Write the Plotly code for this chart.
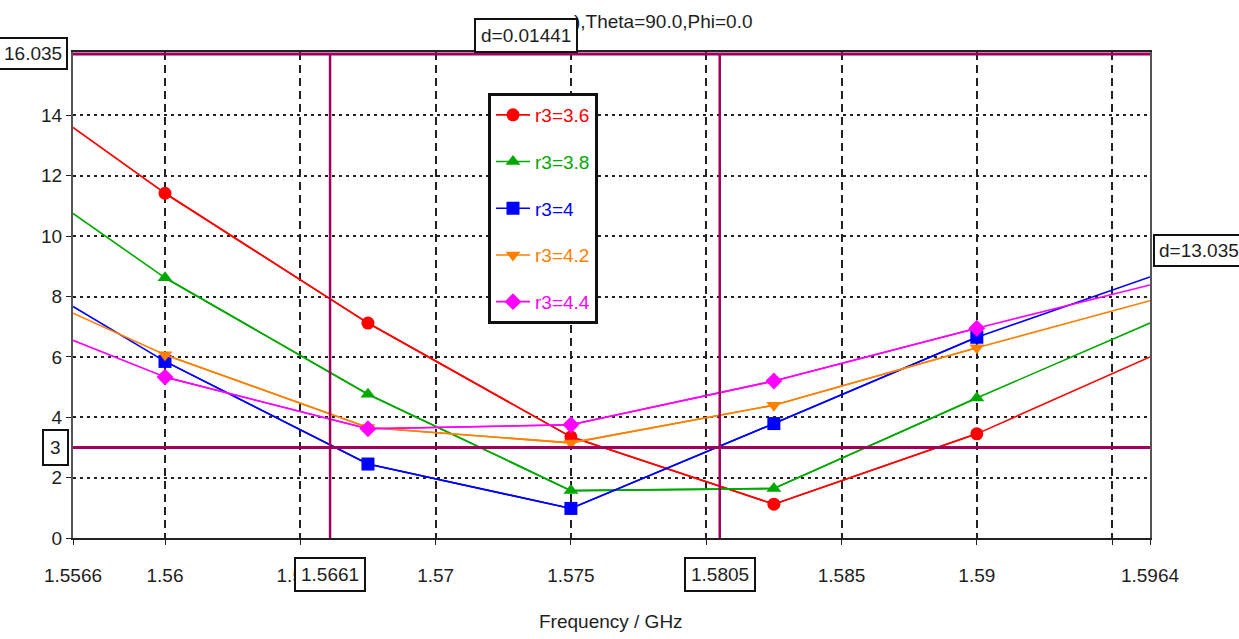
import plotly.graph_objects as go

# ---- data ----
freq = [1.5566, 1.56, 1.5675, 1.575, 1.5825, 1.59, 1.5964]
r3_36 = [13.6, 11.42, 7.12, 3.35, 1.12, 3.45, 6.0]
r3_38 = [10.75, 8.62, 4.76, 1.57, 1.64, 4.64, 7.12]
r3_40 = [7.67, 5.85, 2.45, 0.98, 3.79, 6.65, 8.65]
r3_42 = [7.45, 6.07, 3.66, 3.15, 4.4, 6.3, 7.86]
r3_44 = [6.55, 5.33, 3.62, 3.75, 5.2, 6.95, 8.38]

series_names = ["r3=3.6", "r3=3.8", "r3=4", "r3=4.2", "r3=4.4"]
series_values = [r3_36, r3_38, r3_40, r3_42, r3_44]
series_colors = ["#FF0000", "#00A800", "#0000FF", "#FF8000", "#FF00FF"]
series_symbols = ["circle", "triangle-up", "square", "triangle-down", "diamond"]

x_tickvals = [1.5566, 1.56, 1.565, 1.57, 1.575, 1.58, 1.585, 1.59, 1.595, 1.5964]
x_ticktext = ["1.5566", "1.56", "1.565", "1.57", "1.575", "1.58", "1.585", "1.59", "", "1.5964"]
y_tickvals = [0, 2, 4, 6, 8, 10, 12, 14]

marker_x = [1.5661, 1.5805]
marker_y = [16.035, 3]
delta_x_label = "d=0.01441"
delta_y_label = "d=13.035"
title_tail = "),Theta=90.0,Phi=0.0"
x_title = "Frequency / GHz"

FONT = "Liberation Sans, Arial, sans-serif"
FS = 19
TXT = "#1e1e1e"
MK = "#A0005C"

fig = go.Figure()
for name, vals, col, sym in zip(series_names, series_values, series_colors, series_symbols):
    # full line (continues to the axis edges)
    fig.add_trace(go.Scatter(
        x=freq, y=vals, mode="lines", legendgroup=name, showlegend=False,
        line=dict(color=col, width=1.6), hoverinfo="skip",
    ))
    # markers at the sampled frequencies
    fig.add_trace(go.Scatter(
        x=freq[1:-1], y=vals[1:-1], mode="lines+markers", legendgroup=name,
        name=f"<span style='color:{col}'>{name}</span>",
        line=dict(color=col, width=1.6),
        marker=dict(symbol=sym, size=13, color=col, line=dict(width=0)),
    ))

L, R, T, B = 73, 1150, 52, 538
W, H = 1239, 639
pw, ph = R - L, B - T

def px(xp):
    return (xp - L) / pw

def py(yp):
    return (B - yp) / ph

shapes = []
for yv in marker_y:
    shapes.append(dict(type="line", xref="paper", yref="y", x0=0, x1=1, y0=yv, y1=yv,
                       line=dict(color=MK, width=3)))
for xv in marker_x:
    shapes.append(dict(type="line", xref="x", yref="y", x0=xv, x1=xv, y0=0, y1=marker_y[0],
                       line=dict(color=MK, width=2.5)))

box = dict(bgcolor="white", bordercolor="#111", borderwidth=2, borderpad=6,
           font=dict(family=FONT, size=FS, color=TXT), showarrow=False)
box_tight = dict(box, borderpad=5)
annotations = [
    dict(text=title_tail, xref="paper", yref="paper", x=px(572), y=py(22), xanchor="left",
         yanchor="middle", showarrow=False, font=dict(family=FONT, size=FS, color=TXT)),
    dict(text=x_title, xref="paper", yref="paper", x=px(611), y=py(622), xanchor="center",
         yanchor="middle", showarrow=False, font=dict(family=FONT, size=FS, color=TXT)),
    dict(text=f"{marker_y[0]:.3f}", xref="paper", yref="y", x=px(68), y=marker_y[0],
         xanchor="right", yanchor="middle", **dict(box, borderpad=4)),
    dict(text=f"{marker_y[1]:g}", xref="paper", yref="y", x=px(69), y=marker_y[1],
         xanchor="right", yanchor="middle", **box),
    dict(text=f"{marker_x[0]:.4f}", xref="x", yref="paper", x=marker_x[0], y=py(557),
         xanchor="center", yanchor="top", **box_tight),
    dict(text=f"{marker_x[1]:.4f}", xref="x", yref="paper", x=marker_x[1], y=py(557),
         xanchor="center", yanchor="top", **box_tight),
    dict(text=delta_x_label, xref="paper", yref="paper", x=px(526), y=py(53),
         xanchor="center", yanchor="bottom", **box_tight),
    dict(text=delta_y_label, xref="paper", yref="paper", x=px(1153), y=py(250),
         xanchor="left", yanchor="middle", **dict(box, borderpad=4)),
]

fig.update_layout(
    width=W, height=H,
    margin=dict(l=L, r=W - R, t=T, b=H - B, pad=0, autoexpand=False),
    paper_bgcolor="white", plot_bgcolor="white",
    font=dict(family=FONT, size=FS, color=TXT),
    showlegend=True,
    legend=dict(x=px(488), y=py(93), xanchor="left", yanchor="top",
                bgcolor="white", bordercolor="#111", borderwidth=3,
                font=dict(family=FONT, size=FS), tracegroupgap=19,
                itemsizing="trace", itemwidth=34),
    shapes=shapes, annotations=annotations,
    xaxis=dict(range=[1.5566, 1.5964], tickmode="array", tickvals=x_tickvals, ticktext=x_ticktext,
               automargin=False, ticklabelstandoff=14,
               showgrid=True, gridcolor="#222", gridwidth=1.6, griddash="8px,5px",
               showline=True, linecolor="#222", linewidth=2, mirror=True,
               ticks="outside", ticklen=5, tickcolor="#222", zeroline=False,
               tickfont=dict(family=FONT, size=FS, color=TXT)),
    yaxis=dict(range=[0, 16.1], tickmode="array", tickvals=y_tickvals, automargin=False,
               showgrid=True, gridcolor="#222", gridwidth=1.6, griddash="3px,4px",
               showline=True, linecolor="#555", linewidth=2, mirror=True,
               ticks="outside", ticklen=5, tickcolor="#222", zeroline=False,
               tickfont=dict(family=FONT, size=FS, color=TXT)),
)

fig.write_html("out.html", config={"displayModeBar": False},
               post_script="document.body.style.margin='0px';")
